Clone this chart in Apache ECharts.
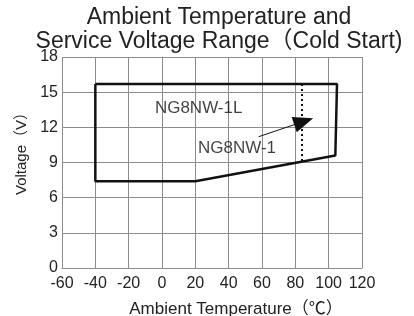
<!DOCTYPE html>
<html>
<head>
<meta charset="utf-8">
<script src="https://cdn.jsdelivr.net/npm/echarts@6/dist/echarts.min.js"></script>
<style>
html, body { margin: 0; padding: 0; background: #fff; }
#main { width: 414px; height: 316px; }
</style>
</head>
<body>
<div id="main"></div>
<script>
// operating envelope, NG8NW-1L (closed polygon)
var boundaryTemp = [-40, 105, 104, 20, -40, -40];
var boundaryVolt = [15.7, 15.7, 9.6, 7.4, 7.4, 15.7];
// NG8NW-1 limit (dotted)
var limitTemp = [84, 84];
var limitVolt = [15.7, 9.1];
// arrow from label to the dotted limit
var arrowFrom = [58, 11.2];
var arrowTo = [85, 12.5];
var labelTexts = ['NG8NW-1L', 'NG8NW-1'];
var labelPos = [[22, 13.6], [45, 10.2]];

var font = '"Liberation Sans", Arial, "Noto Sans CJK SC", sans-serif';
var gridColor = '#8c8c8c';

function zip(a, b) {
    return a.map(function (v, i) { return [v, b[i]]; });
}

var chart = echarts.init(document.getElementById('main'));
chart.setOption({
    animation: false,
    title: {
        text: 'Ambient Temperature and\nService Voltage Range（Cold Start)',
        left: 219,
        top: 6,
        textAlign: 'center',
        padding: 0,
        textStyle: {
            fontFamily: font,
            fontSize: 23,
            fontWeight: 'normal',
            color: '#222',
            lineHeight: 24
        }
    },
    grid: { left: 62, right: 52, top: 57, bottom: 48, outerBoundsMode: 'none' },
    xAxis: {
        type: 'value',
        min: -60, max: 120, interval: 20,
        name: 'Ambient Temperature（℃）',
        nameLocation: 'middle',
        nameGap: 33,
        nameTextStyle: { fontFamily: font, fontSize: 17, color: '#222', padding: [0, 0, 0, 48] },
        axisLine: { show: true, lineStyle: { color: gridColor } },
        axisTick: { show: false },
        axisLabel: { fontFamily: font, fontSize: 16, color: '#222', margin: 8 },
        splitLine: { show: true, lineStyle: { color: gridColor, width: 1 } }
    },
    yAxis: {
        type: 'value',
        min: 0, max: 18, interval: 3,
        name: 'Voltage（V）',
        nameLocation: 'middle',
        nameGap: 22,
        nameTextStyle: { fontFamily: font, fontSize: 15, color: '#222', padding: [0, 0, 0, 25] },
        axisLine: { show: true, lineStyle: { color: gridColor } },
        axisTick: { show: false },
        axisLabel: { fontFamily: font, fontSize: 16, color: '#222', margin: 4, verticalAlign: 'middle', padding: [0, 0, 5, 0] },
        splitLine: { show: true, lineStyle: { color: gridColor, width: 1 } }
    },
    series: [
        {
            type: 'line',
            data: zip(boundaryTemp, boundaryVolt),
            symbol: 'none',
            lineStyle: { color: '#111', width: 2.5 },
            z: 5
        },
        {
            type: 'line',
            data: zip(limitTemp, limitVolt),
            symbol: 'none',
            lineStyle: { color: '#111', width: 2, type: [2, 3] },
            z: 5,
            markLine: {
                silent: true,
                symbol: ['none', 'triangle'],
                symbolSize: [16, 20],
                label: { show: false },
                lineStyle: { color: '#111', width: 1, type: 'solid' },
                data: [[{ coord: arrowFrom }, { coord: arrowTo }]]
            }
        },
        {
            type: 'scatter',
            symbolSize: 0,
            data: labelPos.map(function (p, i) { return { value: p, name: labelTexts[i] }; }),
            label: {
                show: true,
                position: 'inside',
                formatter: '{b}',
                fontFamily: font,
                fontSize: 17,
                color: '#111'
            },
            z: 6
        }
    ]
});
</script>
</body>
</html>
